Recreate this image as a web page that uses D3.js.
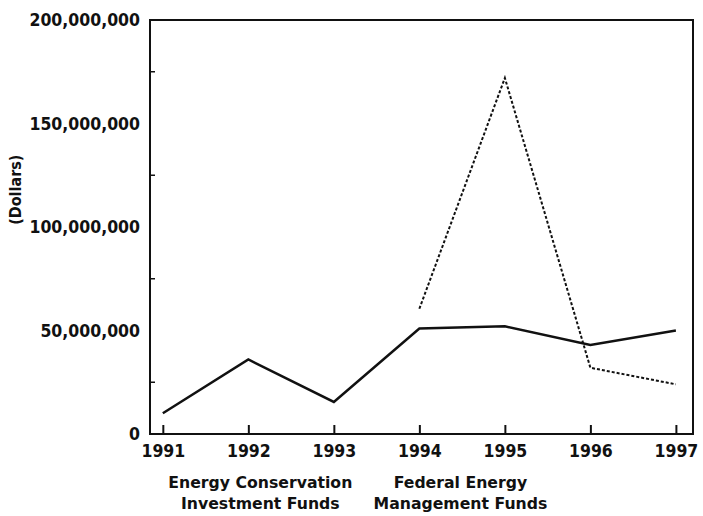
<!DOCTYPE html>
<html>
<head>
<meta charset="utf-8">
<script src="https://cdn.jsdelivr.net/npm/d3@7"></script>
<style>
body { margin: 0; background: #fff; }
text { font-family: "DejaVu Sans Condensed", "DejaVu Sans", sans-serif; font-weight: bold; fill: #111; }
</style>
</head>
<body>
<script>
// chart data
var years = [1991, 1992, 1993, 1994, 1995, 1996, 1997];
var conservationFunds = [10000000, 36000000, 15500000, 51000000, 52000000, 43000000, 50000000];
var femYears = [1994, 1995, 1996, 1997];
var managementFunds = [60500000, 172000000, 32000000, 24000000];
var yTicks = [0, 50000000, 100000000, 150000000, 200000000];
var yMinorTicks = [25000000, 75000000, 125000000, 175000000];

var margin = { top: 20, right: 10, bottom: 82, left: 150 },
    width = 703 - margin.left - margin.right,
    height = 516 - margin.top - margin.bottom;

var x = d3.scaleLinear()
    .domain([1990.85, 1997.2])
    .range([0, width]);

var y = d3.scaleLinear()
    .domain([0, 200000000])
    .range([height, 0]);

var svg = d3.select("body").append("svg")
    .attr("width", 703)
    .attr("height", 516)
    .append("g")
    .attr("transform", "translate(" + margin.left + "," + margin.top + ")");

// frame
svg.append("rect")
    .attr("width", width)
    .attr("height", height)
    .style("fill", "none")
    .style("stroke", "#111")
    .style("stroke-width", 2);

// y-axis labels
var yAxis = d3.axisLeft(y)
    .tickValues(yTicks)
    .tickSize(0)
    .tickPadding(10)
    .tickFormat(d3.format(","));

svg.append("g")
    .attr("class", "y axis")
    .call(yAxis)
    .call(function(g) { g.select(".domain").remove(); })
    .selectAll("text")
    .style("font-family", null)
    .style("font-size", "17.5px");

// minor ticks on the left edge
svg.selectAll(".ytick")
    .data(yMinorTicks)
    .enter().append("line")
    .attr("class", "ytick")
    .attr("x1", 0)
    .attr("x2", 5)
    .attr("y1", function(d) { return y(d); })
    .attr("y2", function(d) { return y(d); })
    .style("stroke", "#111")
    .style("stroke-width", 1.5);

// x-axis
var xAxis = d3.axisBottom(x)
    .tickValues(years)
    .tickSize(-9)
    .tickPadding(7)
    .tickFormat(d3.format("d"));

svg.append("g")
    .attr("class", "x axis")
    .attr("transform", "translate(0," + height + ")")
    .call(xAxis)
    .call(function(g) { g.select(".domain").remove(); })
    .call(function(g) { g.selectAll("line").style("stroke", "#111").style("stroke-width", 2); })
    .selectAll("text")
    .attr("dy", "0.9em")
    .style("font-size", "17.5px");

// y title
svg.append("text")
    .attr("transform", "translate(-129," + y(118000000) + ") rotate(-90)")
    .style("text-anchor", "middle")
    .style("font-size", "16px")
    .text("(Dollars)");

// series names under the axis
var captions = [
    { lines: ["Energy Conservation", "Investment Funds"], at: 1992.14 },
    { lines: ["Federal Energy", "Management Funds"], at: 1994.48 }
];
captions.forEach(function(c) {
    c.lines.forEach(function(t, i) {
        svg.append("text")
            .attr("x", x(c.at))
            .attr("y", height + 54 + i * 21)
            .style("text-anchor", "middle")
            .style("font-family", "'DejaVu Sans', sans-serif")
            .style("font-size", "15.7px")
            .text(t);
    });
});

// lines
var line = d3.line()
    .x(function(d) { return x(d[0]); })
    .y(function(d) { return y(d[1]); });

svg.append("path")
    .datum(d3.zip(years, conservationFunds))
    .attr("d", line)
    .style("fill", "none")
    .style("stroke", "#111")
    .style("stroke-width", 2.5);

svg.append("path")
    .datum(d3.zip(femYears, managementFunds))
    .attr("d", line)
    .style("fill", "none")
    .style("stroke", "#111")
    .style("stroke-width", 2)
    .style("stroke-dasharray", "3,2");
</script>
</body>
</html>
